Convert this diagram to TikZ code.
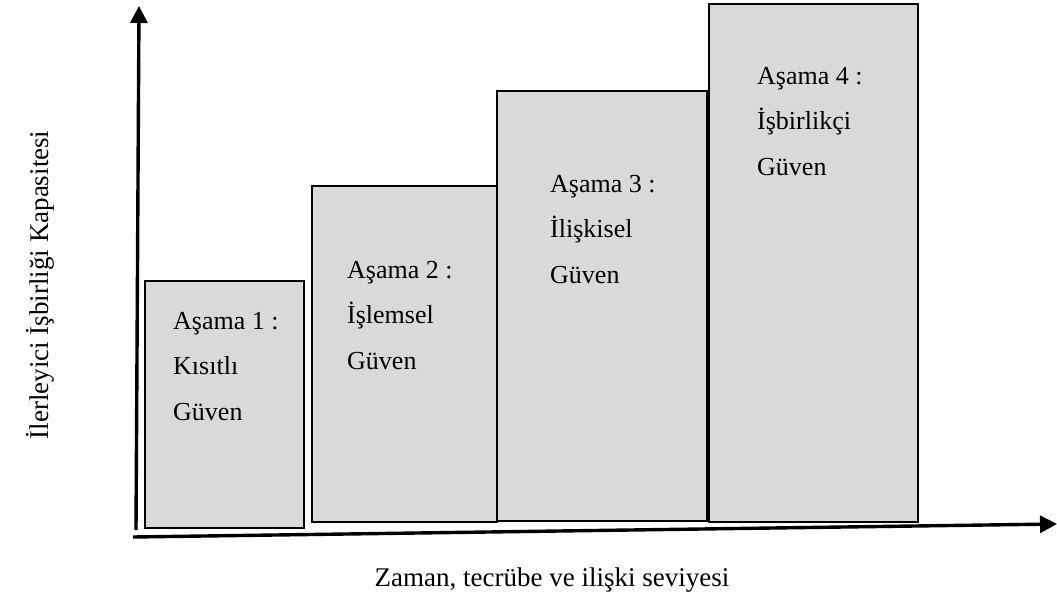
\documentclass[tikz,border=0pt]{standalone}
\usepackage{fontspec}
\setmainfont{Liberation Serif}
\usetikzlibrary{arrows.meta}

\tikzset{
  stage/.style={draw=black,line width=1.8pt,fill=gray!30,inner sep=0pt},
  stagetext/.style={anchor=north west,inner sep=0pt,align=left,
    font=\fontsize{26}{45.5}\selectfont},
  axis/.style={line width=3.4pt,-{Triangle[length=17pt,width=17pt]}},
}

\begin{document}
\begin{tikzpicture}[x=1pt,y=-1pt]
\useasboundingbox (0,0) rectangle (1057,604);
% stage boxes
\node[stage,minimum width=159pt,minimum height=247pt] (s1) at (224.5,404.5) {};
\node[stage,minimum width=185pt,minimum height=336pt] (s2) at (404.5,354) {};
\node[stage,minimum width=210pt,minimum height=430pt] (s3) at (602,306) {};
\node[stage,minimum width=209pt,minimum height=518pt] (s4) at (813.5,263) {};
% stage labels (top of first line)
\node[stagetext] (t1) at (173,312) {Aşama 1 :\\Kısıtlı\\Güven};
\node[stagetext] (t2) at (347,261) {Aşama 2 :\\İşlemsel\\Güven};
\node[stagetext] (t3) at (550,175) {Aşama 3 :\\İlişkisel\\Güven};
\node[stagetext] (t4) at (757,67) {Aşama 4 :\\İşbirlikçi\\Güven};
% axes
\coordinate (yfoot) at (136,530);
\coordinate (ytip) at (139,6);
\coordinate (xfoot) at (133,537);
\coordinate (xtip) at (1057,524);
\draw[axis] (yfoot) -- (ytip);
\draw[axis] (xfoot) -- (xtip);
\node[font=\fontsize{27}{30}\selectfont] (xlab) at (552,580) {Zaman, tecrübe ve ilişki seviyesi};
\node[font=\fontsize{27}{30}\selectfont,rotate=90] (ylab) at (40,285) {İlerleyici İşbirliği Kapasitesi};
\end{tikzpicture}
\end{document}
